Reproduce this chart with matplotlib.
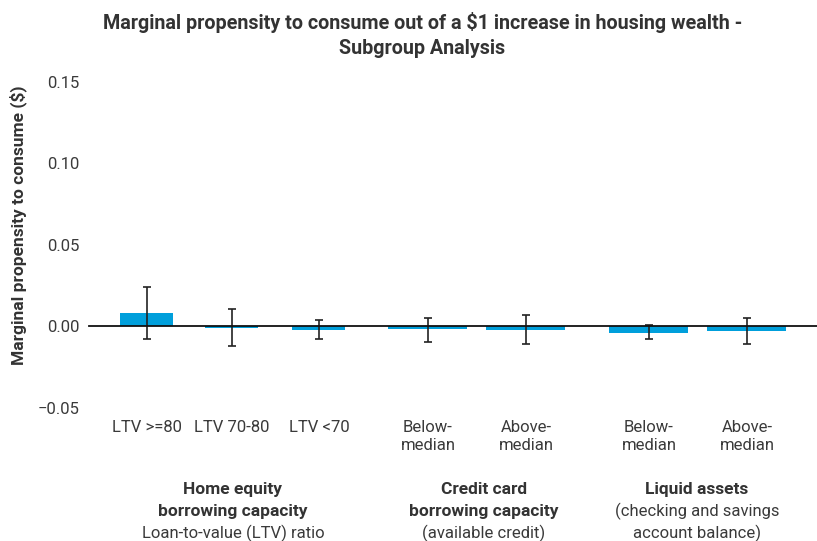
import matplotlib.pyplot as plt

plt.rcParams['font.family'] = ['Roboto', 'DejaVu Sans']

# --- data ---
categories = ["LTV >=80", "LTV 70-80", "LTV <70", "Below-\nmedian", "Above-\nmedian",
              "Below-\nmedian", "Above-\nmedian"]
mpc = [0.008, -0.001, -0.0025, -0.002, -0.0025, -0.004, -0.003]
err_low = [-0.008, -0.0125, -0.008, -0.0095, -0.011, -0.008, -0.011]
err_high = [0.024, 0.0105, 0.0035, 0.005, 0.0065, 0.0005, 0.005]
group_lines = [
    [("Home equity", "bold"), ("borrowing capacity", "bold"), ("Loan-to-value (LTV) ratio", "normal")],
    [("Credit card", "bold"), ("borrowing capacity", "bold"), ("(available credit)", "normal")],
    [("Liquid assets", "bold"), ("(checking and savings", "normal"), ("account balance)", "normal")],
]

# layout (x in hundreds of pixels)
xpos = [1.47, 2.32, 3.19, 4.28, 5.26, 6.49, 7.47]
widths = [0.53, 0.53, 0.53, 0.79, 0.79, 0.79, 0.79]
group_x = [2.33, 4.84, 6.97]
line_y = [-0.1, -0.1135, -0.127]

yerr = [[m - lo for m, lo in zip(mpc, err_low)],
        [hi - m for m, hi in zip(mpc, err_high)]]

fig = plt.figure(figsize=(8.17, 5.41), dpi=100)
ax = fig.add_axes([0.1126, 0.2166, 0.8874, 0.6628])

ax.bar(xpos, mpc, width=widths, color="#009fdb", zorder=2)
ax.errorbar(xpos, mpc, yerr=yerr, fmt='none', ecolor="#222222", elinewidth=1.2,
            capsize=3, capthick=1.2, zorder=3)
ax.axhline(0, xmin=-0.004, color="#111111", linewidth=1.3, zorder=4, clip_on=False)

ax.set_xlim(0.92, 8.17)
ax.set_ylim(-0.06, 0.16)
ax.set_yticks([-0.05, 0, 0.05, 0.10, 0.15])
ax.set_yticklabels(["\u22120.05", "0.00", "0.05", "0.10", "0.15"])
ax.tick_params(axis='y', length=0, pad=9, labelsize=12, labelcolor="#3a3a3a")
ax.set_xticks([])
for s in ax.spines.values():
    s.set_visible(False)

fig.text(18 / 817, 1 - 225 / 541, "Marginal propensity to consume ($)", rotation=90,
         ha='center', va='center', fontsize=12.5, fontweight='bold', color="#333333")

for x, lab in zip(xpos, categories):
    ax.text(x, -0.0575, lab, ha='center', va='top', fontsize=12, color="#3a3a3a",
            linespacing=1.3)

for x, lines in zip(group_x, group_lines):
    for y, (txt, w) in zip(line_y, lines):
        ax.text(x, y, txt, ha='center', va='center', fontsize=12.5 if w == "bold" else 12,
                fontweight=w, color="#333333" if w == "bold" else "#3a3a3a")

fig.suptitle("Marginal propensity to consume out of a $1 increase in housing wealth -\n"
             "Subgroup Analysis", x=0.517, y=0.978, fontsize=14.2, fontweight='bold',
             color="#333333", linespacing=1.4)

fig.savefig("out.png", dpi=100)
